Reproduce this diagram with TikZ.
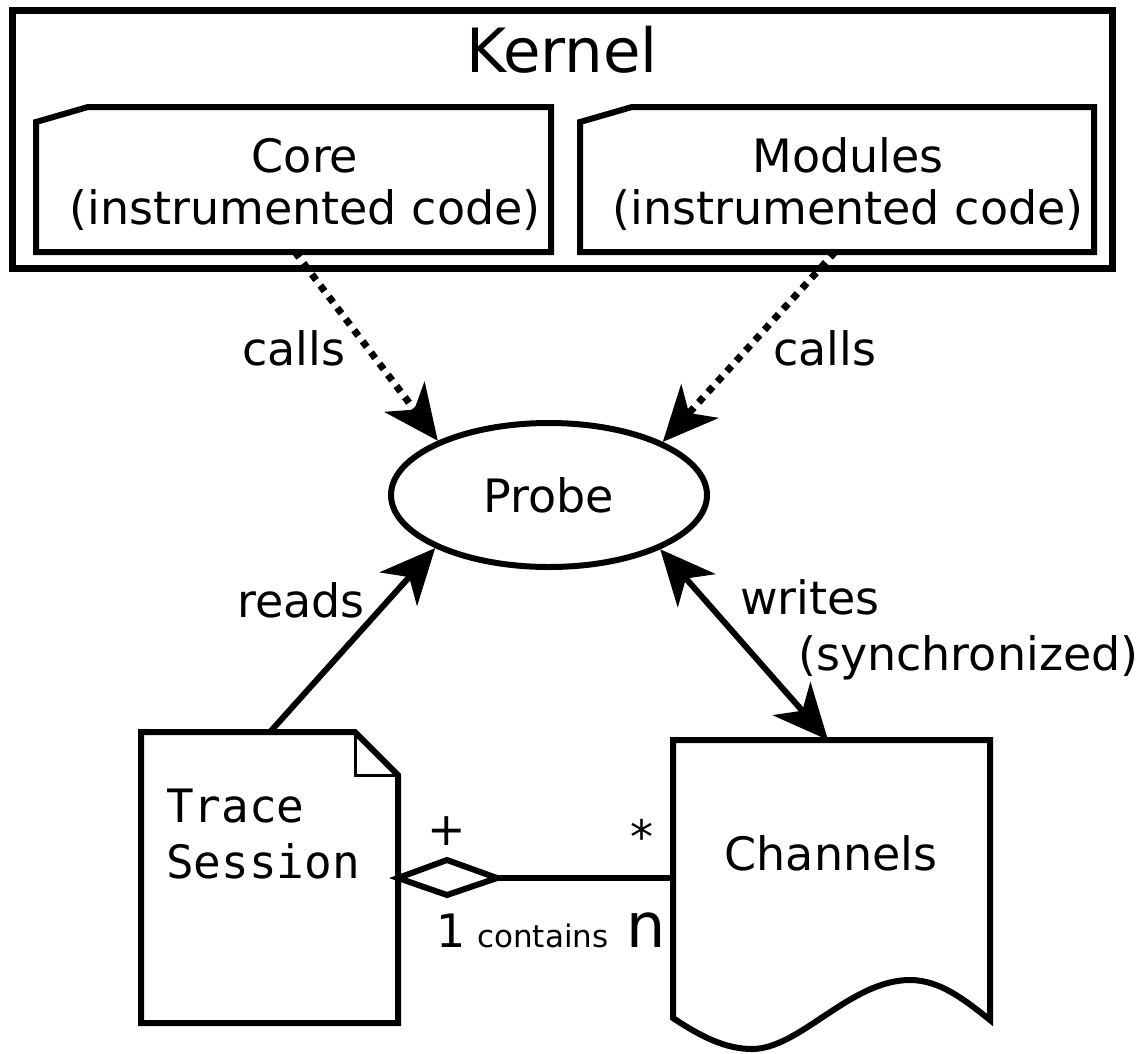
\documentclass[tikz,border=0pt]{standalone}
\usepackage{fontspec}
\setmainfont{DejaVu Sans}
\newfontfamily\monofont{DejaVu Sans Mono}
\usetikzlibrary{arrows.meta,shapes.geometric}
\newcommand\fsz[1]{\fontsize{#1}{#1}\selectfont}
\begin{document}
\begin{tikzpicture}[x=1pt,y=-1pt,
  thickline/.style={line width=6pt, line join=miter},
  hd/.style={-{Stealth[length=55pt,width=50pt,inset=16pt]}},
  hdboth/.style={{Stealth[length=55pt,width=50pt,inset=16pt]}-{Stealth[length=55pt,width=50pt,inset=16pt]}},
  dotline/.style={line width=7pt, dash pattern=on 7pt off 7pt},
  lbl/.style={font=\fsz{46}, inner sep=0, anchor=base west},
  ctr/.style={font=\fsz{46}, inner sep=0, anchor=base},
  frame/.style={inner sep=0, outer sep=0, anchor=north west}]
\useasboundingbox (0,0) rectangle (1141,1053);

% Kernel
\node[frame, draw, line width=7pt, minimum width=1100pt, minimum height=258pt] (kernel) at (12,10) {};
\node[font=\fsz{61}, inner sep=0, anchor=base] (kerneltxt) at (562,72) {Kernel};

% Core
\node[frame, minimum width=515pt, minimum height=145pt] (core) at (36,107) {};
\draw[thickline] (core.south west) -- ([yshift=-15pt]core.north west) -- ([xshift=52pt]core.north west) -- (core.north east) -- (core.south east) -- cycle;
\node[ctr] (coret1) at (305,172) {Core};
\node[ctr] (coret2) at (305,224) {(instrumented code)};

% Modules
\node[frame, minimum width=514pt, minimum height=145pt] (mods) at (580,107) {};
\draw[thickline] (mods.south west) -- ([yshift=-15pt]mods.north west) -- ([xshift=52pt]mods.north west) -- (mods.north east) -- (mods.south east) -- cycle;
\node[ctr] (modt1) at (848,172) {Modules};
\node[ctr] (modt2) at (848,224) {(instrumented code)};

% Probe
\node[draw, ellipse, line width=6pt, minimum width=316pt, minimum height=144pt, inner sep=0, font=\fsz{46}] (probe) at (549,495) {Probe};

% Trace Session
\node[frame, minimum width=257pt, minimum height=291pt] (trace) at (141,732) {};
\draw[thickline] (trace.north west) -- ([xshift=-43pt]trace.north east) -- ([yshift=-43pt]trace.north east) -- (trace.south east) -- (trace.south west) -- cycle;
\draw[line width=3pt] ([xshift=-43pt]trace.north east) -- ([xshift=-43pt,yshift=-43pt]trace.north east) -- ([yshift=-43pt]trace.north east);
\node[font=\monofont\fsz{46}, inner sep=0, anchor=base west] (tracet1) at (166,822) {Trace};
\node[font=\monofont\fsz{46}, inner sep=0, anchor=base west] (tracet2) at (166,878) {Session};

% Channels
\node[frame, minimum width=317pt, minimum height=280pt] (chan) at (673,740) {};
\draw[thickline] (673,1018) -- (chan.north west) -- (chan.north east) -- (990,1020)
  .. controls (965,1000) and (940,980) .. (910,980)
  .. controls (850,980) and (800,1049) .. (752,1049)
  .. controls (725,1049) and (700,1036) .. (673,1018) -- cycle;
\node[font=\fsz{46}, inner sep=0] (chant) at (831,853) {Channels};

% connectors
\coordinate (coreout) at (295,252);
\coordinate (modout) at (835,252);
\coordinate (tracein) at (270,732);
\coordinate (chanin) at (828,740);
\draw[dotline, hd] (coreout) -- (probe.154.7);
\draw[dotline, hd] (modout) -- (probe.25.3);
\draw[line width=6pt, hd] (tracein) -- (probe.205.3);
\draw[line width=6pt, hdboth] (probe.334.7) -- (chanin);

% aggregation
\coordinate (dl) at (398,878);
\draw[thickline] (dl) -- ++(49,-18) -- ++(50,18) coordinate (dr) -- ++(-50,17) -- cycle;
\draw[line width=6pt] (dr) -- (dr -| chan.west);

% labels
\node[lbl] (calls1) at (242,365) {calls};
\node[lbl] (calls2) at (773,365) {calls};
\node[lbl] (reads) at (237,617) {reads};
\node[lbl] (writes) at (740,614) {writes};
\node[lbl] (sync) at (798,670) {(synchronized)};
\node[font=\fsz{46}, inner sep=0] (plus) at (447,831) {+};
\node[font=\fsz{46}, inner sep=0] (star) at (642,836) {*};
\node[lbl] (one) at (436,947) {1};
\node[font=\fsz{31}, inner sep=0, anchor=base west] (contains) at (477,947) {contains};
\node[font=\fsz{62}, inner sep=0, anchor=base west] (enn) at (626,947) {n};
\end{tikzpicture}
\end{document}
